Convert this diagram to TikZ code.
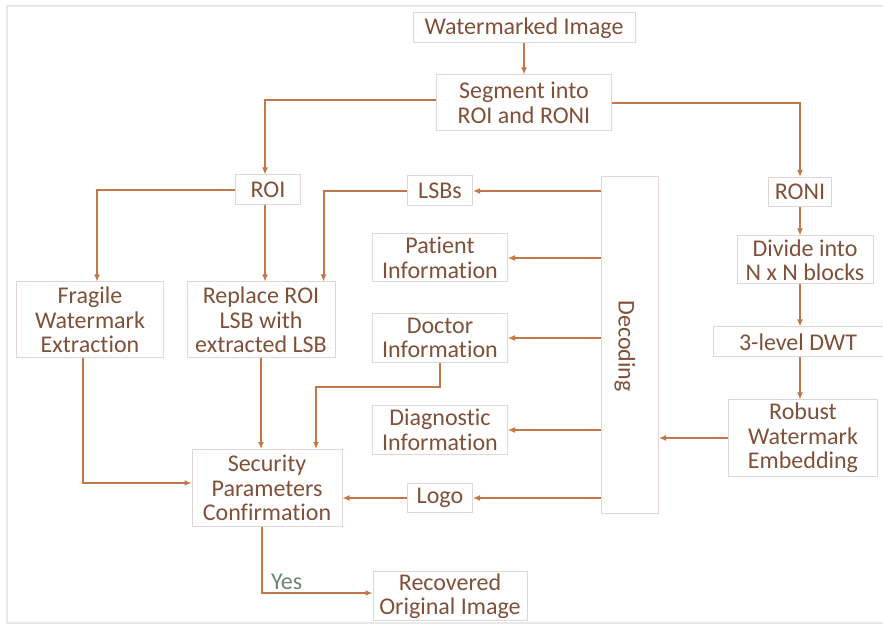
\documentclass[tikz,border=0pt]{standalone}
\usepackage{fontspec}
\setmainfont{Carlito}[Ligatures=NoCommon]
\usetikzlibrary{arrows.meta}
\definecolor{txtBrown}{RGB}{128,80,56}
\definecolor{lineBrown}{RGB}{194,118,74}
\definecolor{boxGray}{RGB}{226,214,212}
\definecolor{yesGreen}{RGB}{108,134,108}
\definecolor{frameGray}{RGB}{232,232,232}
\newcommand\boxSep{0.5pt}
\newcommand\lineW{1pt}
\tikzset{
  blk/.style={draw=boxGray, line width=\boxSep, text=txtBrown, align=center, inner sep=1pt,
              font=\fontsize{12}{12.2}\selectfont},
  flow/.style={draw=lineBrown, line width=\lineW, -{Latex[length=3.5pt,width=3pt]}},
  yeslbl/.style={text=yesGreen, font=\fontsize{12}{12.2}\selectfont, inner sep=1pt}
}
\begin{document}
\begin{tikzpicture}[x=0.5pt,y=-0.5pt]
    \useasboundingbox (0,0) rectangle (883,625);
    \draw[frameGray, line width=1pt] (890,6) -- (7,6) -- (7,623) -- (890,623);

    % TOP
    \node[blk, minimum width=111pt, minimum height=15pt] (wimg) at (524,28) {Watermarked Image};
    \node[blk, minimum width=87.5pt, minimum height=28pt] (seg) at (524,103) {Segment into\\ROI and RONI};

    % LEFT BRANCH
    \node[blk, minimum width=32.5pt, minimum height=15pt] (roi) at (268,190) {ROI};
    \node[blk, minimum width=73.5pt, minimum height=38pt] (frag) at (90,320) {Fragile\\Watermark\\Extraction};
    \node[blk, minimum width=74pt, minimum height=38pt] (repl) at (261,320) {Replace ROI\\LSB with\\extracted LSB};
    \node[blk, minimum width=75pt, minimum height=38.5pt] (sec) at (267,488) {Security\\Parameters\\Confirmation};
    \node[blk, minimum width=77pt, minimum height=24pt] (rec) at (450,596) {Recovered\\Original Image};

    % DECODED PARTS
    \node[blk, minimum width=32.5pt, minimum height=15pt] (lsbs) at (440,191) {LSBs};
    \node[blk, minimum width=67.5pt, minimum height=24pt] (pat) at (440,258) {Patient\\Information};
    \node[blk, minimum width=67.5pt, minimum height=24.5pt] (doc) at (440,338) {Doctor\\Information};
    \node[blk, minimum width=67.5pt, minimum height=24.5pt] (diag) at (440,430) {Diagnostic\\Information};
    \node[blk, minimum width=32.5pt, minimum height=14.5pt] (logo) at (440,498) {Logo};
    \node[blk, minimum width=28.5pt, minimum height=168.5pt] (dec) at (630,345) {};
    \node[text=txtBrown, font=\fontsize{12}{12.2}\selectfont, rotate=-90] (decTxt) at (625,346) {Decoding};

    % RIGHT BRANCH
    \node[blk, minimum width=31.5pt, minimum height=14.5pt] (roni) at (800,192) {RONI};
    \node[blk, minimum width=68pt, minimum height=24pt] (div) at (805,260) {Divide into\\N x N blocks};
    \node[blk, minimum width=85pt, minimum height=15pt] (dwt) at (798,342) {3-level DWT};
    \node[blk, minimum width=74.5pt, minimum height=38pt] (rob) at (803,438) {Robust\\Watermark\\Embedding};

    % ARROWS OF THE SPLIT
    \draw[flow] (wimg) -- (seg);
    \draw[flow] ([yshift=1.5pt]seg.west) -| ([xshift=-1.5pt]roi.north);
    \draw[flow] (seg.east) -| (roni.north);
    \draw[flow] (roi.west) -| ([xshift=3.5pt]frag.north);
    \draw[flow] ([xshift=-1.5pt]roi.south) -- ([xshift=2pt]repl.north);
    \draw[flow] (lsbs.west) -| ([xshift=-6pt]repl.north east);

    % ARROWS OUT OF DECODING
    \foreach \part in {lsbs,pat,doc,diag,logo}{
      \draw[flow] (\part.east -| dec.west) -- (\part.east);
    }

    % RONI CHAIN
    \draw[flow] (roni) -- (roni |- div.north);
    \draw[flow] (roni |- div.south) -- (roni |- dwt.north);
    \draw[flow] (roni |- dwt.south) -- (roni |- rob.north);
    \draw[flow] (rob.west) -- (rob.west -| dec.east);

    % ARROWS INTO SECURITY
    \draw[flow] ([xshift=-3.5pt]frag.south) |- ([yshift=2.5pt]sec.west);
    \draw[flow] (repl.south) -- ([xshift=-3pt]sec.north);
    \draw[flow] (doc.south) -- ++(0,24) -| ([xshift=24.5pt]sec.north);
    \draw[flow] (logo.west) -- (logo.west -| sec.east);
    \draw[flow] ([xshift=-2.5pt]sec.south) |- ([yshift=1.5pt]rec.west) node[pos=0.5, above right, yeslbl, xshift=3pt] (yes) {Yes};
\end{tikzpicture}
\end{document}
